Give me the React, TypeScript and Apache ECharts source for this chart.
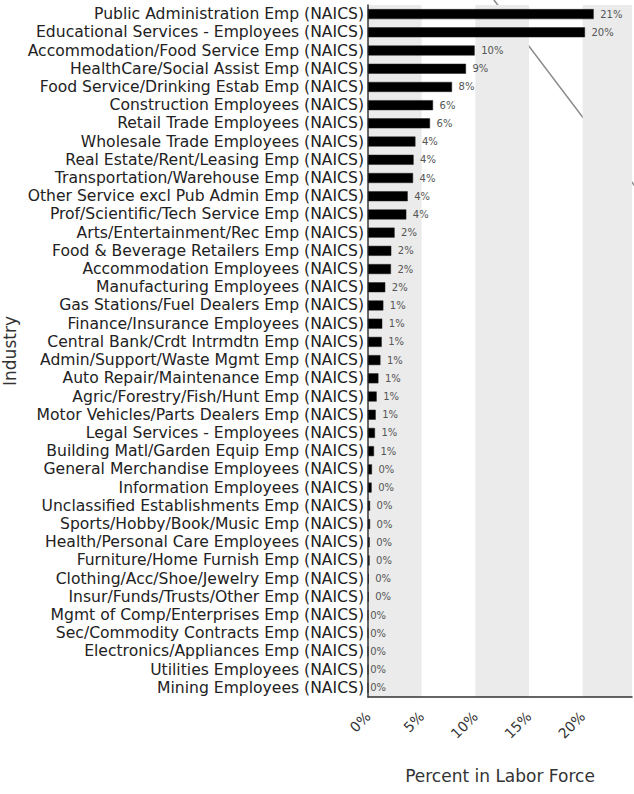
import React, { useEffect, useRef } from "react";
import * as echarts from "echarts";

const industries = [
  "Public Administration Emp (NAICS)",
  "Educational Services - Employees (NAICS)",
  "Accommodation/Food Service Emp (NAICS)",
  "HealthCare/Social Assist Emp (NAICS)",
  "Food Service/Drinking Estab Emp (NAICS)",
  "Construction Employees (NAICS)",
  "Retail Trade Employees (NAICS)",
  "Wholesale Trade Employees (NAICS)",
  "Real Estate/Rent/Leasing Emp (NAICS)",
  "Transportation/Warehouse Emp (NAICS)",
  "Other Service excl Pub Admin Emp (NAICS)",
  "Prof/Scientific/Tech Service Emp (NAICS)",
  "Arts/Entertainment/Rec Emp (NAICS)",
  "Food & Beverage Retailers Emp (NAICS)",
  "Accommodation Employees (NAICS)",
  "Manufacturing Employees (NAICS)",
  "Gas Stations/Fuel Dealers Emp (NAICS)",
  "Finance/Insurance Employees (NAICS)",
  "Central Bank/Crdt Intrmdtn Emp (NAICS)",
  "Admin/Support/Waste Mgmt Emp (NAICS)",
  "Auto Repair/Maintenance Emp (NAICS)",
  "Agric/Forestry/Fish/Hunt Emp (NAICS)",
  "Motor Vehicles/Parts Dealers Emp (NAICS)",
  "Legal Services - Employees (NAICS)",
  "Building Matl/Garden Equip Emp (NAICS)",
  "General Merchandise Employees (NAICS)",
  "Information Employees (NAICS)",
  "Unclassified Establishments Emp (NAICS)",
  "Sports/Hobby/Book/Music Emp (NAICS)",
  "Health/Personal Care Employees (NAICS)",
  "Furniture/Home Furnish Emp (NAICS)",
  "Clothing/Acc/Shoe/Jewelry Emp (NAICS)",
  "Insur/Funds/Trusts/Other Emp (NAICS)",
  "Mgmt of Comp/Enterprises Emp (NAICS)",
  "Sec/Commodity Contracts Emp (NAICS)",
  "Electronics/Appliances Emp (NAICS)",
  "Utilities Employees (NAICS)",
  "Mining Employees (NAICS)",
];

const percentInLaborForce = [
  21.03, 20.22, 9.94, 9.13, 7.83, 6.06, 5.78, 4.42, 4.25, 4.2, 3.7, 3.57,
  2.48, 2.17, 2.14, 1.61, 1.43, 1.33, 1.28, 1.16, 0.97, 0.81, 0.72, 0.65,
  0.56, 0.37, 0.34, 0.19, 0.19, 0.16, 0.15, 0.07, 0.06, 0, 0, 0, 0, 0,
];

const xTicks = [0, 5, 10, 15, 20];
const xMax = 24.6;

const FONT = "DejaVu Sans";

export default function App() {
  const ref = useRef<HTMLDivElement>(null);

  useEffect(() => {
    if (!ref.current) return;
    const chart = echarts.init(ref.current, null, { renderer: "svg" });
    const data = percentInLaborForce.map((v) => ({
      value: v,
      label: { distance: v === 0 ? 2 : 6.5 },
    }));
    chart.setOption({
      animation: false,
      textStyle: { fontFamily: FONT },
      grid: { left: 368, right: 2, top: 5, bottom: 97, containLabel: false },
      xAxis: {
        type: "value",
        min: 0,
        max: xMax,
        interval: 5,
        name: "Percent in Labor Force",
        nameLocation: "middle",
        nameGap: 70,
        nameTextStyle: { fontSize: 17, color: "#333", fontFamily: FONT },
        axisLine: { show: true, lineStyle: { color: "#333", width: 1.5 } },
        axisTick: { show: false },
        splitLine: { show: false },
        splitArea: {
          show: true,
          areaStyle: { color: ["#ebebeb", "rgba(255,255,255,0)"] },
        },
        axisLabel: {
          rotate: 45,
          margin: 17,
          fontSize: 14,
          color: "#333",
          fontFamily: FONT,
          showMaxLabel: false,
          formatter: (v: number) => (xTicks.includes(v) ? `${v}%` : ""),
        },
      },
      yAxis: {
        type: "category",
        inverse: true,
        data: industries,
        name: "Industry",
        nameLocation: "middle",
        nameRotate: 90,
        nameGap: 350,
        nameTextStyle: { fontSize: 17, color: "#333", fontFamily: FONT },
        axisLine: { show: true, lineStyle: { color: "#333", width: 1.5 } },
        axisTick: { show: false },
        axisLabel: {
          interval: 0,
          fontSize: 15.6,
          color: "#222",
          margin: 4,
          fontFamily: FONT,
        },
      },
      graphic: [
        {
          type: "line",
          z: -10,
          shape: { x1: 494, y1: 0, x2: 640, y2: 193 },
          style: { stroke: "#8a8a8a", lineWidth: 1.5 },
        },
      ],
      series: [
        {
          type: "bar",
          data,
          barWidth: 10,
          itemStyle: { color: "#000", borderColor: "#222", borderWidth: 0.5 },
          label: {
            show: true,
            position: "right",
            fontSize: 10,
            color: "#555",
            fontFamily: FONT,
            formatter: (p: any) => `${Math.round(p.value)}%`,
          },
        },
      ],
    });
    return () => chart.dispose();
  }, []);

  return (
    <div
      ref={ref}
      style={{ width: 634, height: 794, position: "absolute", left: 0, top: 0 }}
    />
  );
}
